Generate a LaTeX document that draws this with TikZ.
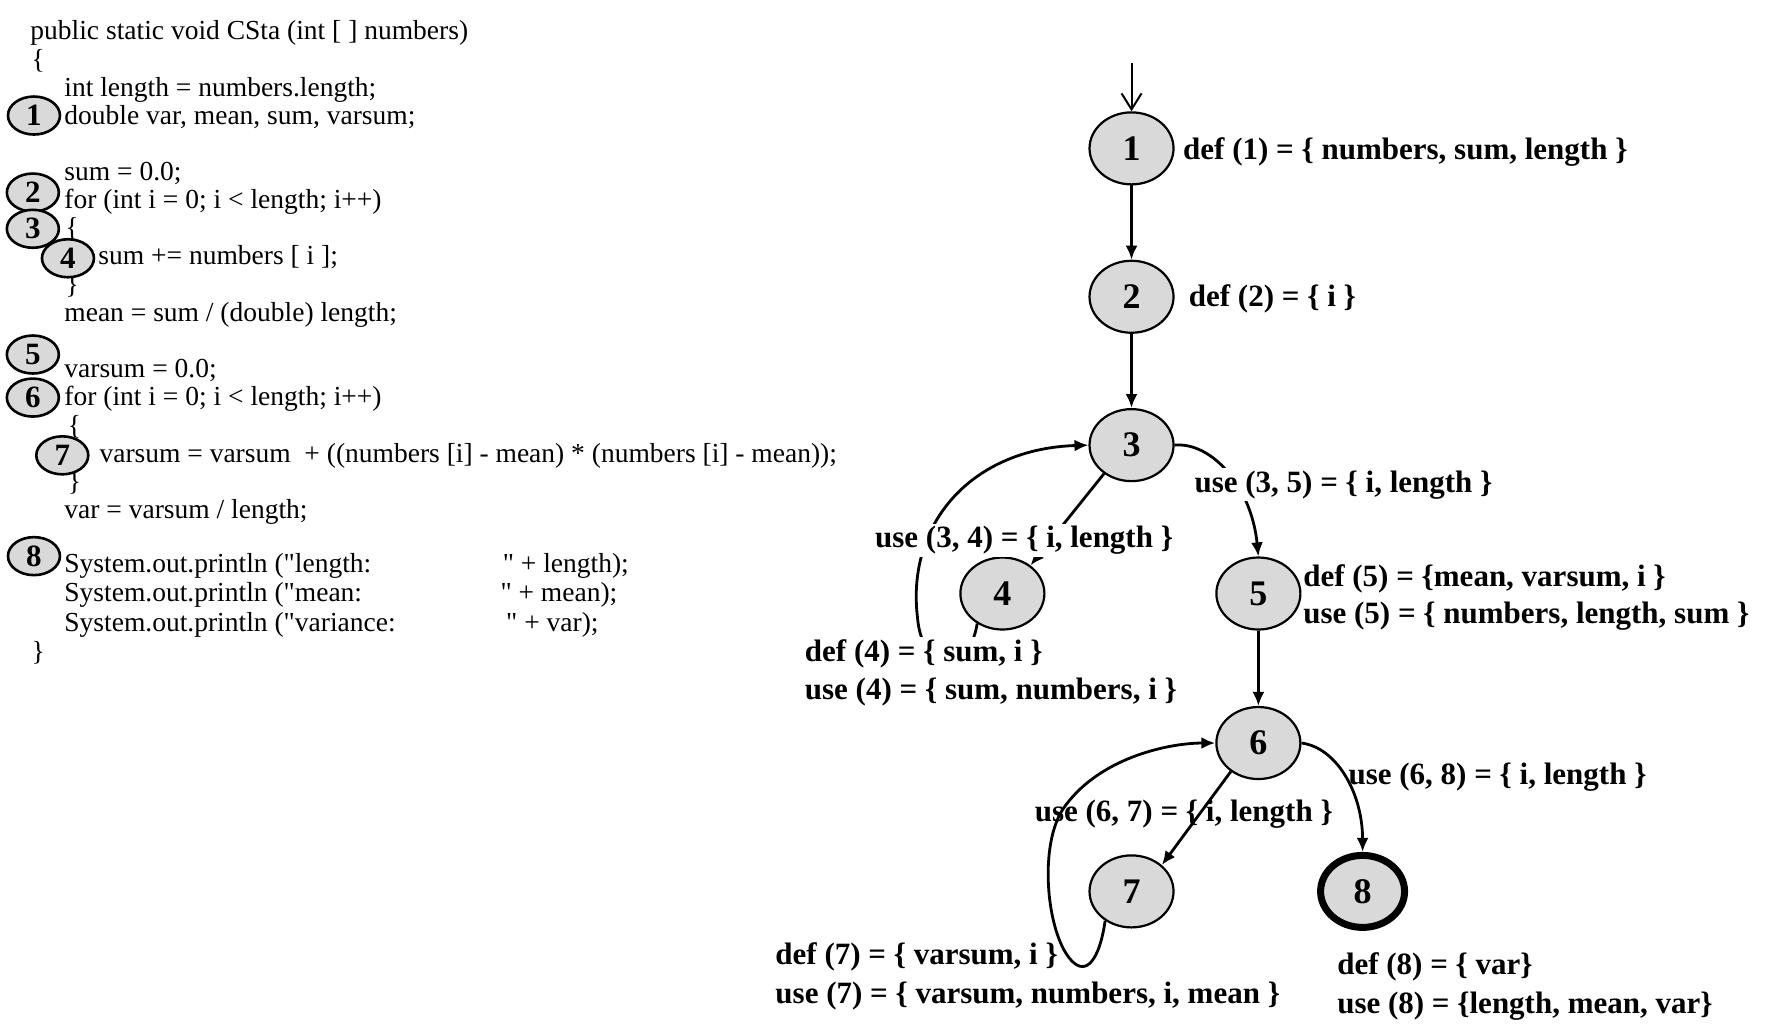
\documentclass[tikz,border=0pt]{standalone}
\usepackage{fontspec}
\setmainfont{Liberation Serif}
\usetikzlibrary{arrows.meta, shapes.geometric}

\begin{document}
\begin{tikzpicture}[x=0.5663pt, y=-0.5663pt, line width=1pt,
  code/.style={anchor=west, inner sep=0pt, font=\fontsize{13.75}{14}\selectfont,
    text height=9.8pt, text depth=2.8pt},
  linemark/.style={ellipse, draw, line width=1.3pt, fill=gray!30, inner sep=0pt,
    minimum width=26pt, minimum height=19pt, font=\bfseries\fontsize{15.5}{15.5}\selectfont},
  cfgnode/.style={ellipse, draw, line width=1.1pt, fill=gray!30, inner sep=0pt,
    minimum width=42pt, minimum height=36pt, font=\bfseries\fontsize{18}{18}\selectfont},
  dulabel/.style={anchor=west, inner sep=1pt, font=\bfseries\fontsize{15.5}{15.5}\selectfont,
    text height=11pt, text depth=3.5pt},
  flow/.style={line width=1.4pt, -{Latex[length=7pt, width=6pt]}}]

  \useasboundingbox (0, 0) rectangle (1568, 913);

  % ───────── Source code (left) ─────────
  \foreach \cx/\cy/\codetext [count=\k] in {
      26/29/{public static void CSta (int [ ] numbers)},
      27/54/{\{},
      56/79/{int length = numbers.length;},
      56/104/{double var, mean, sum, varsum;},
      56/153/{sum = 0.0;},
      56/178/{for (int i = 0; i < length; i++)},
      57/203/{\{},
      86/227/{sum += numbers [ i ];},
      57/253/{\}},
      56/278/{mean = sum / (double) length;},
      56/327/{varsum = 0.0;},
      56/352/{for (int i = 0; i < length; i++)},
      59/377/{\{},
      87/402/{varsum = varsum~ + ((numbers [i] - mean) * (numbers [i] - mean));},
      59/427/{\}},
      56/452/{var = varsum / length;},
      56/499/{System.out.println (\textquotedbl length:},
      56/525/{System.out.println (\textquotedbl mean:},
      56/551/{System.out.println (\textquotedbl variance:},
      27/577/{\}}}
    \node[code] (code\k) at (\cx, \cy) {\codetext};

  % tail of the println lines
  \foreach \cx/\cy/\codetext [count=\k] in {
      443/499/{\textquotedbl{} + length);},
      441/525/{\textquotedbl{} + mean);},
      446/551/{\textquotedbl{} + var);}}
    \node[code] (tail\k) at (\cx, \cy) {\codetext};

  % ───────── Statement markers ─────────
  \foreach \n/\mx/\my in {1/30/102, 2/29/170, 3/29/202, 4/60/228,
                          5/29/313, 6/29/351, 7/55/402, 8/30/491}
    \node[linemark] (m\n) at (\mx, \my) {\n};

  % ───────── Control flow graph nodes ─────────
  \node[cfgnode] (n1) at (999, 131) {1};
  \node[cfgnode] (n2) at (999, 262) {2};
  \node[cfgnode] (n3) at (999, 393) {3};
  \node[cfgnode] (n4) at (885, 524) {4};
  \node[cfgnode] (n5) at (1111, 524) {5};
  \node[cfgnode] (n6) at (1111, 656) {6};
  \node[cfgnode] (n7) at (999, 787) {7};
  \node[cfgnode, line width=3.5pt] (n8) at (1203, 787) {8};

  % ───────── Edges ─────────
  \coordinate (entry) at (999, 56);
  \draw[line width=1pt, -{Straight Barb[length=8pt, width=10pt]}] (entry) -- (n1);
  \draw[flow] (n1) -- (n2);
  \draw[flow] (n2) -- (n3);
  \draw[flow] (n3.226) -- (n4.45);
  \draw[flow] (n3.east) .. controls (1070, 390) and (1105, 430) .. (n5.north);
  \draw[flow] (n4.230) .. controls (856, 595) and (814, 595) .. (810, 545)
    .. controls (800, 460) and (860, 396) .. (n3.west);
  \draw[flow] (n5) -- (n6);
  \draw[flow] (n6.226) -- (n7.41);
  \draw[flow] (n6.east) .. controls (1180, 660) and (1203, 700) .. (n8.north);
  \draw[flow] (n7.228) .. controls (972, 840) and (962, 862) .. (948, 850)
    .. controls (925, 830) and (916, 750) .. (938, 715)
    .. controls (968, 670) and (1030, 656) .. (n6.west);

  % ───────── def / use sets ─────────
  \node[dulabel] (def1) at (1042, 134) {def (1) = \{ numbers, sum, length \}};
  \node[dulabel] (def2) at (1047, 264) {def (2) = \{ i \}};
  \node[dulabel, fill=white] (use35) at (1052, 428) {use (3, 5) = \{ i, length \}};
  \node[dulabel, fill=white] (use34) at (770, 477) {use (3, 4) = \{ i, length \}};
  \node[dulabel] (def5) at (1148, 511) {def (5) = \{mean, varsum, i \}};
  \node[dulabel] (use5) at (1148, 544) {use (5) = \{ numbers, length, sum \}};
  \node[dulabel, fill=white] (def4) at (708, 577) {def (4) = \{ sum, i \}};
  \node[dulabel] (use4) at (708, 611) {use (4) = \{ sum, numbers, i \}};
  \node[dulabel] (use68) at (1188, 686) {use (6, 8) = \{ i, length \}};
  \node[dulabel] (use67) at (911, 719) {use (6, 7) = \{ i, length \}};
  \node[dulabel] (def7) at (682, 845) {def (7) = \{ varsum, i \}};
  \node[dulabel] (use7) at (682, 879) {use (7) = \{ varsum, numbers, i, mean \}};
  \node[dulabel] (def8) at (1178, 854) {def (8) = \{ var\}};
  \node[dulabel] (use8) at (1178, 888) {use (8) = \{length, mean, var\}};

\end{tikzpicture}
\end{document}
